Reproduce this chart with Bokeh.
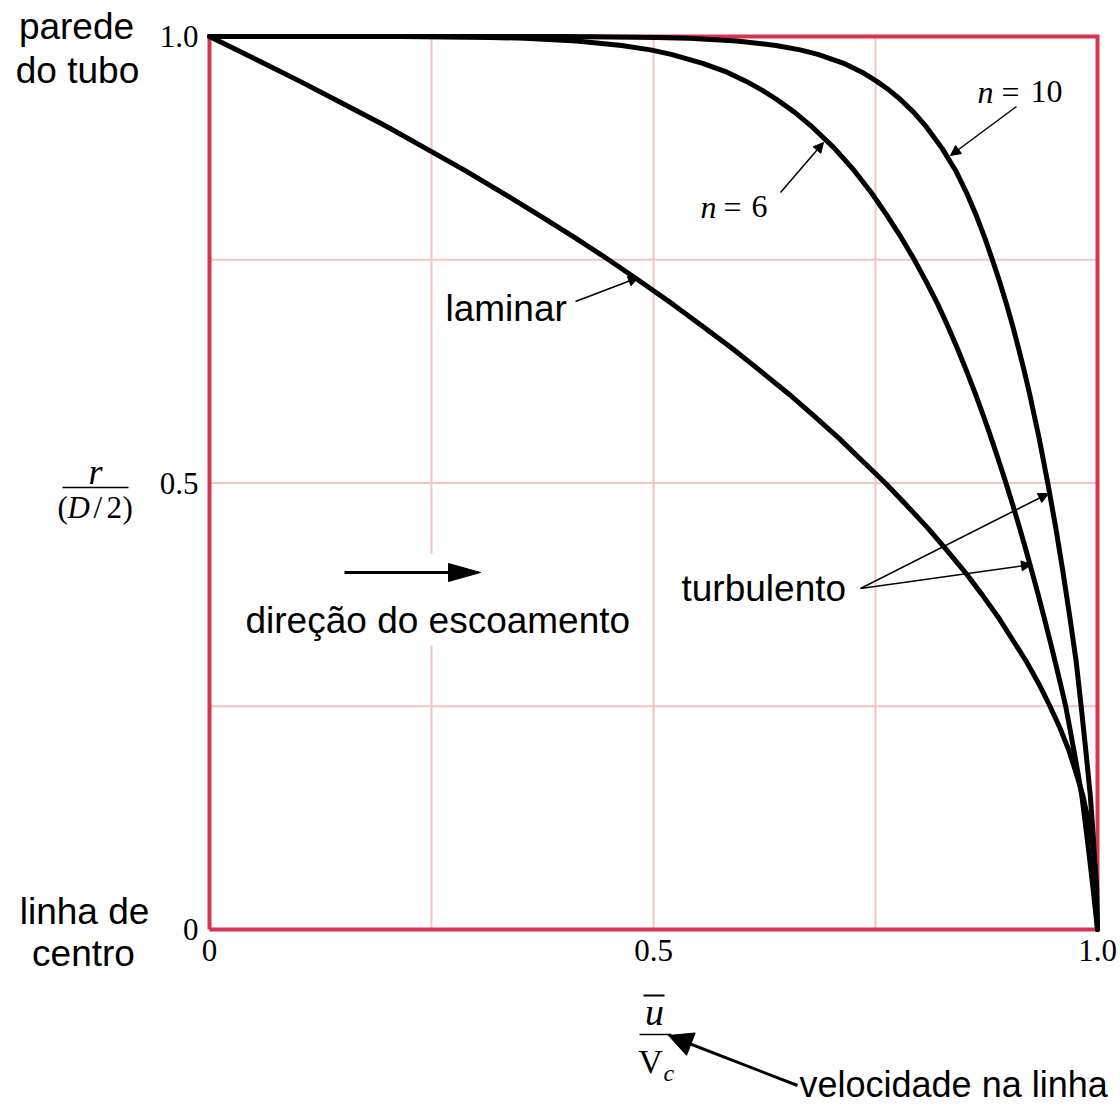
from bokeh.plotting import figure
from bokeh.models import Range1d, Label, Arrow, NormalHead
from bokeh.core.properties import value
from bokeh.embed import file_html
from bokeh.resources import INLINE

# ---------------- data ----------------
lam_y = [0.0, 0.05, 0.075, 0.1, 0.125, 0.15, 0.175, 0.2, 0.225, 0.25, 0.275, 0.3, 0.325,
         0.35, 0.375, 0.4, 0.425, 0.45, 0.475, 0.5, 0.525, 0.55, 0.575, 0.6, 0.625, 0.65,
         0.675, 0.7, 0.725, 0.75, 0.775, 0.8, 0.825, 0.85, 0.875, 0.9, 0.925, 0.95, 0.975, 1.0]
lam_x = [1.0, 0.999, 0.997, 0.994, 0.989, 0.9835, 0.976, 0.968, 0.958, 0.9465, 0.934, 0.92,
         0.904, 0.888, 0.870, 0.851, 0.830, 0.8085, 0.785, 0.761, 0.735, 0.709, 0.681,
         0.652, 0.621, 0.5895, 0.556, 0.522, 0.486, 0.4495, 0.411, 0.371, 0.330, 0.2875,
         0.243, 0.198, 0.150, 0.1015, 0.051, 0.0]

n6_y = [0.0, 0.05, 0.075, 0.1, 0.125, 0.15, 0.175, 0.2, 0.225, 0.25, 0.275, 0.3, 0.325,
        0.35, 0.375, 0.4, 0.425, 0.45, 0.475, 0.5, 0.525, 0.55, 0.575, 0.6, 0.625, 0.65,
        0.675, 0.7, 0.725, 0.75, 0.775, 0.8, 0.825, 0.85, 0.875, 0.9, 0.915, 0.93, 0.94,
        0.95, 0.96, 0.97, 0.98, 0.985, 0.99, 0.995, 0.998, 0.999, 0.9999, 1.0]
n6_x = [1.0, 0.9945, 0.9916, 0.9886, 0.9855, 0.9823, 0.978, 0.9735, 0.9689, 0.9642, 0.9583,
        0.9523, 0.9461, 0.9397, 0.9332, 0.9264, 0.9194, 0.9122, 0.9047, 0.8969, 0.8888,
        0.8804, 0.8716, 0.8624, 0.8527, 0.8425, 0.8317, 0.8202, 0.8074, 0.7937, 0.7789,
        0.7627, 0.7454, 0.7259, 0.7036, 0.6773, 0.6591, 0.638, 0.6222, 0.604, 0.5828,
        0.5554, 0.52, 0.4966, 0.4642, 0.4135, 0.3549, 0.3162, 0.2154, 0.0]

n10_y = [0.0, 0.05, 0.1, 0.15, 0.2, 0.25, 0.3, 0.35, 0.4, 0.45, 0.5, 0.55, 0.6, 0.625, 0.65,
         0.675, 0.7, 0.725, 0.75, 0.775, 0.8, 0.825, 0.85, 0.875, 0.9, 0.915, 0.93, 0.94,
         0.95, 0.96, 0.97, 0.98, 0.985, 0.99, 0.995, 0.998, 0.999, 0.9999, 0.99999, 1.0]
n10_x = [1.0, 0.9979, 0.9955, 0.9919, 0.9869, 0.9816, 0.976, 0.9688, 0.9612, 0.953,
         0.944, 0.9343, 0.9235, 0.9176, 0.9113, 0.9047, 0.8976, 0.8899, 0.8816, 0.8729,
         0.8633, 0.8525, 0.8402, 0.8248, 0.8063, 0.7931, 0.7775, 0.7653, 0.7511, 0.7348,
         0.7142, 0.6852, 0.6651, 0.638, 0.5937, 0.5402, 0.5032, 0.3981, 0.3162, 0.0]

x_ticks = [0.0, 0.5, 1.0]
x_tick_labels = ["0", "0.5", "1.0"]
y_ticks = [0.0, 0.5, 1.0]
y_tick_labels = ["0", "0.5", "1.0"]
grid_ticks = [0.25, 0.5, 0.75]
limits = [0.0, 1.0]

# ---------------- layout ----------------
W, H = 1120, 1112
FL, FR, FT, FB = 209, 1097, 36, 929   # canvas px of x=0, x=1, y=1, y=0
SX = FR - FL
SY = FB - FT

RED = "#d8344e"
GRID = "#f6c4c0"
SERIF = "Liberation Serif"
SANS = "Liberation Sans"


def dx(X):
    return (X - FL) / SX


def dy(Y):
    return (FB - Y) / SY


p = figure(width=W, height=H, title=None,
           x_range=Range1d(dx(0), dx(W)), y_range=Range1d(dy(H), dy(0)),
           x_axis_type=None, y_axis_type=None,
           output_backend="svg", toolbar_location=None,
           min_border_left=0, min_border_right=0, min_border_top=0, min_border_bottom=0)
p.outline_line_color = None
p.background_fill_color = "white"
p.border_fill_color = "white"
p.xgrid.visible = False
p.ygrid.visible = False

# grid lines
n = len(grid_ticks)
p.segment(x0=grid_ticks, y0=[limits[0]] * n, x1=grid_ticks, y1=[limits[1]] * n,
          line_color=GRID, line_width=2)
p.segment(x0=[limits[0]] * n, y0=grid_ticks, x1=[limits[1]] * n, y1=grid_ticks,
          line_color=GRID, line_width=2)

# white box behind the flow-direction note (interrupts the grid)
p.quad(left=[dx(236)], right=[dx(646)], top=[dy(553)], bottom=[dy(645)],
       fill_color="white", line_color=None)

# red frame
p.line([limits[0], limits[1], limits[1], limits[0], limits[0]],
       [limits[0], limits[0], limits[1], limits[1], limits[0]],
       line_color=RED, line_width=4, line_join="miter")

# tick labels
p.text(x=x_ticks, y=[dy(950)] * len(x_ticks), text=x_tick_labels,
       text_font=value(SERIF), text_font_size="31px", text_color="black",
       text_align="center", text_baseline="middle")
p.text(x=[dx(198)] * len(y_ticks), y=y_ticks, text=y_tick_labels,
       text_font=value(SERIF), text_font_size="31px", text_color="black",
       text_align="right", text_baseline="middle")

# profiles
for xs, ys in ((lam_x, lam_y), (n6_x, n6_y), (n10_x, n10_y)):
    p.line(xs, ys, line_color="black", line_width=5, line_join="round", line_cap="round")


def L(text, X, Y, size, font=SANS, style="normal", align="left"):
    p.add_layout(Label(x=dx(X), y=dy(Y), text=text, text_font=font,
                       text_font_size=f"{size}px", text_font_style=style,
                       text_align=align, text_baseline="middle", text_color="black"))


def A(X0, Y0, X1, Y1, lw=1.5, size=10, head=True):
    end = NormalHead(size=size, fill_color="black", line_color="black", line_width=1) if head else None
    p.add_layout(Arrow(x_start=dx(X0), y_start=dy(Y0), x_end=dx(X1), y_end=dy(Y1),
                       line_width=lw, line_color="black", end=end))


# side notes
L("parede", 76, 26, 37, align="center")
L("do tubo", 77, 70, 37, align="center")
L("linha de", 84, 911, 37, align="center")
L("centro", 83, 953, 37, align="center")

# y label  r / (D/2)
L("r", 95, 471, 36, SERIF, "italic", "center")
A(62, 487, 128, 487, lw=1.5, head=False)
L("(", 57, 507, 31, SERIF)
L("D", 67, 507, 31, SERIF, "italic")
L("/", 93, 507, 31, SERIF)
L("2", 106, 507, 31, SERIF)
L(")", 122, 507, 31, SERIF)

# x label  u-bar / V_c
L("u", 654, 1011, 38, SERIF, "italic", "center")
A(643, 995, 664, 995, lw=2, head=False)
A(639, 1034, 671, 1034, lw=1.5, head=False)
L("V", 650, 1061, 34, SERIF, "normal", "center")
L("c", 663, 1072, 24, SERIF, "italic")

# curve labels
L("n", 700, 206, 32, SERIF, "italic")
L("=", 723, 206, 32, SERIF)
L("6", 751, 206, 32, SERIF)
A(780, 192, 823, 142)

L("n", 977, 91, 32, SERIF, "italic")
L("=", 1001, 91, 32, SERIF)
L("10", 1030, 91, 32, SERIF)
A(1016, 106, 950, 155)

L("laminar", 445, 308, 37)
A(575, 301, 638, 277)

L("turbulento", 681, 588, 37)
A(860, 588, 1048, 493)
A(860, 588, 1031, 564)

# flow direction
L("direção do escoamento", 245, 620, 37)
A(344, 572, 452, 572, lw=3, head=False)
p.patch([dx(480), dx(448), dx(448)], [dy(572), dy(563), dy(581)],
        fill_color="black", line_color="black", line_width=1)

# centre-line velocity note
L("velocidade na linha", 799, 1084, 36)
A(797, 1085, 668, 1035, lw=3, size=24)

open("out.html", "w").write(file_html(p, INLINE))
